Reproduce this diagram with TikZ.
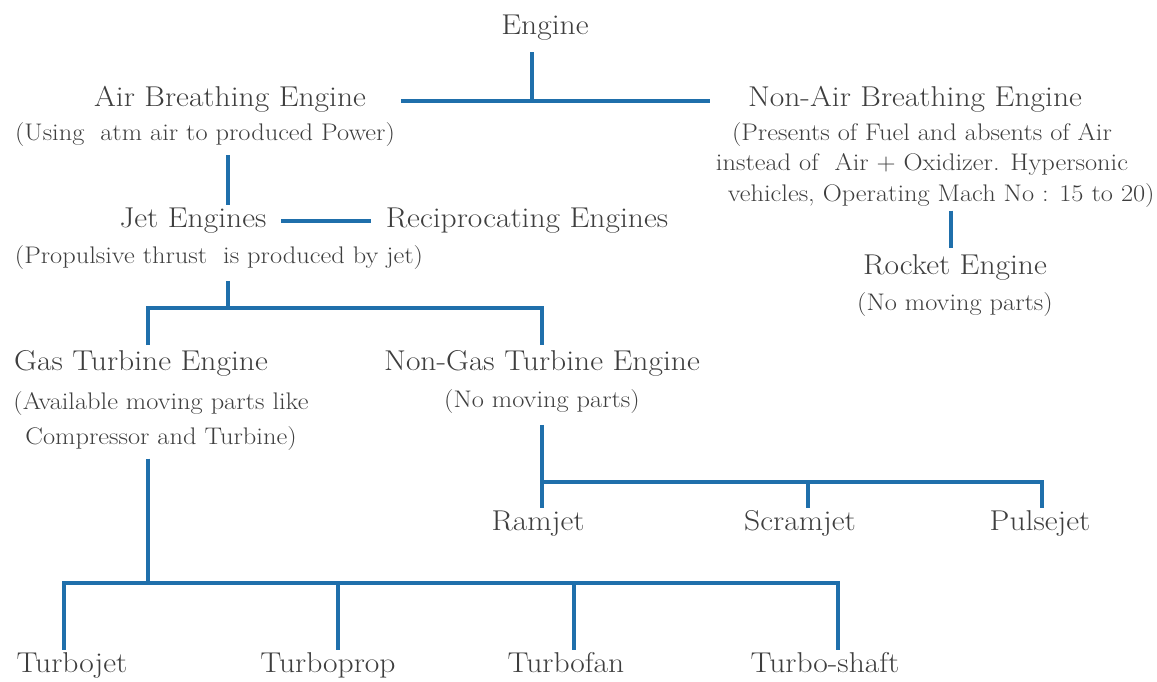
\documentclass[tikz,border=0pt]{standalone}
\usepackage{fontspec}
\setmainfont{Latin Modern Roman}[FakeStretch=1.1]
\usepackage{tikz}
\usetikzlibrary{positioning}

\definecolor{linkblue}{RGB}{31,111,171}
\definecolor{textgray}{RGB}{62,62,62}

\begin{document}
\begin{tikzpicture}[x=0.75pt,y=-0.75pt,
 title/.style={text=textgray,inner sep=2pt,text height=15pt,text depth=5pt,font=\fontsize{21.5}{25}\selectfont},
 note/.style={text=textgray,inner sep=2pt,align=center,font=\fontsize{18}{23}\selectfont},
 link/.style={draw=linkblue,line width=2.3pt}]
\useasboundingbox (0,0) rectangle (1157,682);

% top level
\node[title] (engine) at (545,28) {Engine};
\node[title] (airb) at (230,100) {Air Breathing Engine};
\node[note] (airbnote) at (205,135) {(Using\ \ atm air to produced Power)};
\node[title] (nonair) at (915,100) {Non-Air Breathing Engine};
\node[note] (nonairnote) at (922,165) {(Presents of Fuel and absents of Air\\instead of\ \ Air + Oxidizer. Hypersonic\\\hspace*{1.6em}vehicles, Operating Mach No : 15 to 20)};
\node[title] (rocket) at (955,268) {Rocket Engine};
\node[note] (rocketnote) at (955,305) {(No moving parts)};

% air breathing branch
\node[title] (jet) at (193,221) {Jet Engines};
\node[title] (recip) at (527,221) {Reciprocating Engines};
\node[note] (jetnote) at (219,258) {(Propulsive thrust\ \ is produced by jet)};
\node[title] (gas) at (141,364) {Gas Turbine Engine};
\node[note] (gasnote) at (161,421) {(Available moving parts like\\[3pt]Compressor and Turbine)};
\node[title] (nongas) at (542,364) {Non-Gas Turbine Engine};
\node[note] (nongasnote) at (542,402) {(No moving parts)};

\node[title] (ramjet) at (538,524) {Ramjet};
\node[title] (scram) at (800,524) {Scramjet};
\node[title] (pulse) at (1040,524) {Pulsejet};

\node[title] (tjet) at (72,666) {Turbojet};
\node[title] (tprop) at (328,666) {Turboprop};
\node[title] (tfan) at (566,666) {Turbofan};
\node[title] (tshaft) at (825,666) {Turbo-shaft};

% junctions
\coordinate (jEng) at (532,101);
\coordinate (jJet) at (228,308);
\coordinate (jGas) at (148,583);
\coordinate (jNgt) at (542,482);
\coordinate (jScr) at (808,482);
\coordinate (jPul) at (1042,482);
\coordinate (jRoc) at (951,0);
\coordinate (jT1) at (64,583);
\coordinate (jT2) at (338,583);
\coordinate (jT3) at (574,583);
\coordinate (jT4) at (838,583);

\draw[link,shorten <=6pt] (engine.south -| jEng) -- (jEng);
\draw[link,shorten <=24pt,shorten >=26pt] (airb.east |- jEng) -- (nonair.west |- jEng);
\draw[link,shorten <=4pt] (jJet |- airbnote.south) -- (jJet |- jet.north);
\draw[link,shorten <=9pt,shorten >=9pt] (jet.east) -- (recip.west);
\draw[link,shorten <=6pt] (jetnote.south -| jJet) -- (jJet);
\draw[link,shorten <=2pt,shorten >=2pt] (jGas |- gas.north) |- (jJet) -| (nongas.north);
\draw[link,shorten >=3pt] (jRoc |- nonairnote.south) -- (jRoc |- rocket.north);

\draw[link,shorten <=6pt] (nongasnote.south) -- (jNgt) -- (jPul) -- (jPul |- pulse.north);
\draw[link] (jNgt) -- (jNgt |- ramjet.north);
\draw[link] (jScr) -- (jScr |- scram.north);

\draw[link,shorten <=4pt] (gasnote.south -| jGas) -- (jGas);
\draw[link] (jT1 |- tjet.north) -- (jT1) -- (jT4) -- (jT4 |- tshaft.north);
\foreach \j/\n in {jT2/tprop,jT3/tfan} {\draw[link] (\j) -- (\j |- \n.north);}
\end{tikzpicture}
\end{document}
